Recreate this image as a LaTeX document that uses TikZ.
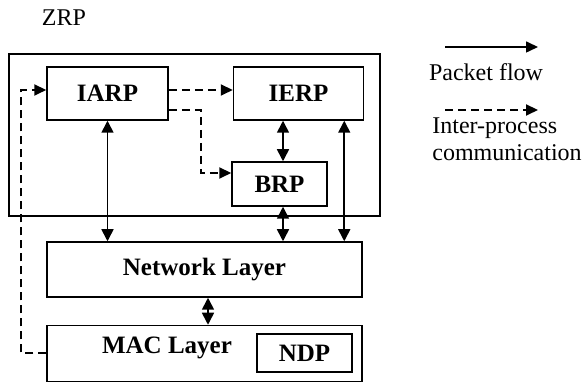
\documentclass[tikz,border=0pt]{standalone}
\usepackage{fontspec}
\setmainfont{Liberation Serif}
\usepackage{tikz}
\usetikzlibrary{positioning, arrows.meta}

\begin{document}
\begin{tikzpicture}[
        x=0.5pt, y=-0.5pt,
        node distance=10pt and 10pt,
        box/.style={draw, line width=0.75pt, inner sep=0pt, minimum width=#1, font=\fontsize{12.5}{14}\selectfont\bfseries, align=center},
        box/.default=40pt,
        lbl/.style={inner sep=0pt, font=\fontsize{12}{13.5}\selectfont, align=left},
        arr/.style={{Triangle[length=6pt,width=6pt]}-{Triangle[length=6pt,width=6pt]}, line width=0.8pt},
        flowarr/.style={-{Triangle[length=6pt,width=5.5pt]}, line width=0.8pt},
        dasharr/.style={-{Triangle[length=6pt,width=5.5pt]}, line width=1pt, dash pattern=on 4pt off 2.5pt},
    ]
    \useasboundingbox (0,0) rectangle (582,383);

    % ---- ZRP ----
    \node[lbl] (zrp) at (64,18) {ZRP};
    \node[box=185.5pt, minimum height=81pt] (zrp-box) at (194.5,135) {};
    \node[box=60.5pt, minimum height=26.5pt] (iarp) at (107.5,93.5) {IARP};
    \node[box=65pt, minimum height=26.5pt, right=32pt of iarp] (ierp) {IERP};
    \node[box=47.5pt, minimum height=22pt] (brp) at (279.5,184) {BRP};

    % ---- LAYERS ----
    \node[box=157.5pt, minimum height=27.5pt] (net) at (204.5,269.5) {Network Layer};
    \node[box=157.5pt, minimum height=28pt, below=13.5pt of net] (mac) {};
    \node[box=47.5pt, minimum height=19pt] (ndp) at (304.5,353) {NDP};
    \node[box, draw=none, minimum width=0pt] (mac-lbl) at (167,348) {MAC Layer};

    % ---- PACKET FLOW ----
    \draw[arr] (iarp.south) -- (iarp.south |- net.north);
    \draw[arr] ([xshift=1.75pt]brp.north |- ierp.south) -- ([xshift=1.75pt]brp.north);
    \draw[arr] ([xshift=1.75pt]brp.south) -- ([xshift=1.75pt]brp.south |- net.north);
    \draw[arr] ([xshift=-10pt]ierp.south east) -- ([xshift=-10pt]ierp.south east |- net.north);
    \draw[arr] ([xshift=1.75pt]net.south) -- ([xshift=1.75pt]mac.north);

    % ---- INTER-PROCESS ----
    \draw[dasharr] ([yshift=1.75pt]iarp.east) -- ([yshift=1.75pt]ierp.west);
    \draw[dasharr] ([yshift=-8.25pt]iarp.east) -- ++(16pt,0) |- ([yshift=5.5pt]brp.west);
    \draw[dasharr] (mac.west) -- ++(-12.5pt,0) |- ([yshift=1.75pt]iarp.west);

    % ---- LEGEND ----
    \coordinate (pf-start) at (445,47);
    \coordinate (pf-end) at (538,47);
    \draw[flowarr] (pf-start) -- (pf-end);
    \node[lbl] (pf-lbl) at (486,72) {Packet flow};
    \coordinate (ipc-start) at (445,110);
    \coordinate (ipc-end) at (538,110);
    \draw[dasharr] (ipc-start) -- (ipc-end);
    \node[lbl, anchor=north west] (ipc-lbl) at (432,117) {Inter-process\\communication};
\end{tikzpicture}
\end{document}
